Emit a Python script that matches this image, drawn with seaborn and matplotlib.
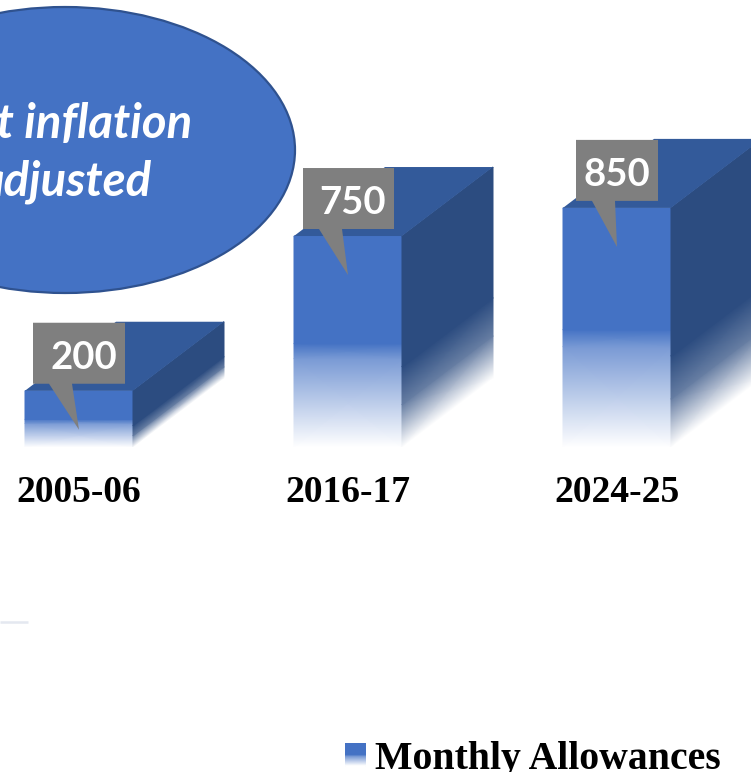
import matplotlib
matplotlib.use("Agg")
import matplotlib.pyplot as plt
import numpy as np
import pandas as pd
import seaborn as sns
from matplotlib.collections import QuadMesh
from matplotlib.colors import LinearSegmentedColormap, Normalize
from matplotlib.lines import Line2D
from matplotlib.patches import Ellipse, Polygon

# values
years = ["2005-06", "2016-17", "2024-25"]
allowances = [200, 750, 850]
series_name = "Monthly Allowances"
note = "Not inflation\nadjusted"

FW, FH = 751, 772
BASE_PX = 447           # bar baseline, pixels from top
PX_PER_CAT = 269
PX_PER_VAL = 0.2813
FIRST_BAR_PX = 79

FRONT = "#4472C4"
TOP = "#335A9A"
SIDE = "#2C4C80"
GREY = "#7F7F7F"

DEPTH_X, DEPTH_Y = 91, 69          # 3d offset, pixels
CALLOUT_L = [-46, -45, -41]        # callout box left edge from bar centre
CALLOUT_W = [92, 91, 82]
LABEL_DX = [5, 5, 0]

sns.set_theme(style="white")
plt.rcParams["font.family"] = ["Lato", "DejaVu Sans"]

df = pd.DataFrame({"Year": years, "Allowance": allowances})

fig = plt.figure(figsize=(FW / 100, FH / 100), dpi=100)
ax = fig.add_axes([0, (FH - BASE_PX) / FH, 1, BASE_PX / FH])
sns.barplot(data=df, x="Year", y="Allowance", color=FRONT, width=108 / PX_PER_CAT,
            saturation=1, label=series_name, ax=ax)


def dx(px):
    return px / PX_PER_CAT


def dy(px):
    return px / PX_PER_VAL


def fade_cmap(color):
    return LinearSegmentedColormap.from_list("fade", ["white", color])


FRONT_ROWS = np.array([0, 0.42, 0.49, 1])
SIDE_ROWS = np.array([0, 0.2, 0.38, 1])
FADE_VALS = np.array([0, 0.72, 1, 1])


def fade_face(X, Y, color):
    # gouraud mesh added directly, the category axis rejects 2d x arrays
    C = np.column_stack([FADE_VALS, FADE_VALS]).ravel()
    mesh = QuadMesh(np.dstack([X, Y]), shading="gouraud", cmap=fade_cmap(color),
                    norm=Normalize(0, 1), array=C, zorder=2, transform=ax.transData)
    ax.add_collection(mesh, autolim=False)


ax.set_xlim(-dx(FIRST_BAR_PX), (FW - FIRST_BAR_PX) / PX_PER_CAT)
ax.set_ylim(0, dy(BASE_PX))

leg = ax.legend(loc="center left", bbox_to_anchor=(345 / FW, -(759 - BASE_PX) / BASE_PX),
                frameon=False, borderpad=0, borderaxespad=0, handlelength=0.51,
                handleheight=0.5, handletextpad=0.24, labelcolor="black",
                prop={"family": "Liberation Serif", "weight": "bold", "size": 28.6})

for i, bar in enumerate(ax.patches):
    x0 = bar.get_x()
    x1 = x0 + bar.get_width()
    h = bar.get_height()
    bar.set_facecolor("none")
    bar.set_edgecolor("none")

    # front face
    ys = FRONT_ROWS * h
    fade_face(np.column_stack([np.full(4, x0), np.full(4, x1)]),
              np.column_stack([ys, ys]), FRONT)

    # side face, fades along skewed rows
    ys = SIDE_ROWS * h
    fade_face(np.column_stack([np.full(4, x1), np.full(4, x1 + dx(DEPTH_X))]),
              np.column_stack([ys, ys + dy(DEPTH_Y)]), SIDE)

    # top face
    ax.add_patch(Polygon([(x0, h), (x1, h), (x1 + dx(DEPTH_X), h + dy(DEPTH_Y)),
                          (x0 + dx(DEPTH_X), h + dy(DEPTH_Y))], fc=TOP, ec="none", zorder=2))

    # value callout
    c = bar.get_x() + bar.get_width() / 2
    left = c + dx(CALLOUT_L[i])
    right = left + dx(CALLOUT_W[i])
    y_low = h + dy(7)
    y_high = h + dy(68)
    ax.add_patch(Polygon([(left, y_low), (left, y_high), (right, y_high), (right, y_low),
                          (left + dx(39), y_low), (c, h - dy(39)), (left + dx(16), y_low)],
                         fc=GREY, ec="none", zorder=4))
    ax.text(c + dx(LABEL_DX[i]), h + dy(33), str(allowances[i]), color="white", fontsize=27.5,
            fontweight="bold", ha="center", va="center", zorder=5)

# speech ellipse, runs off the left edge
ax.add_patch(Ellipse((65 / FW, 1 - 150 / FH), 460 / FW, 286 / FH, transform=fig.transFigure,
                     fc=FRONT, ec="#2F528F", lw=1.6, clip_on=False, zorder=3))
fig.text(65 / FW, 1 - 153 / FH, note, color="white", fontsize=34, fontweight="bold",
         fontstyle="italic", ha="center", va="center", linespacing=1.37, zorder=6)

# faint leftover rule at the left edge
fig.add_artist(Line2D([0, 28 / FW], [1 - 622 / FH] * 2, color="#E4E8F0", lw=1.8,
                      solid_capstyle="butt"))

ax.set_xlabel("")
ax.set_ylabel("")
ax.set_yticks([])
ax.tick_params(axis="x", length=0, pad=20)
for lab in ax.get_xticklabels():
    lab.set_fontfamily("Liberation Serif")
    lab.set_fontweight("bold")
    lab.set_fontsize(27)
    lab.set_color("black")
sns.despine(ax=ax, left=True, bottom=True)
ax.patch.set_alpha(0)

# gradient legend swatch on top of the plain handle
fig.canvas.draw()
bb = leg.legend_handles[0].get_window_extent().transformed(fig.transFigure.inverted())
sw = fig.add_axes(bb)
sw.imshow(np.interp(np.linspace(1, 0, 40), FRONT_ROWS, FADE_VALS).reshape(-1, 1),
          cmap=fade_cmap(FRONT), vmin=0, vmax=1, aspect="auto")
sw.axis("off")

fig.savefig("out.png", dpi=100)
